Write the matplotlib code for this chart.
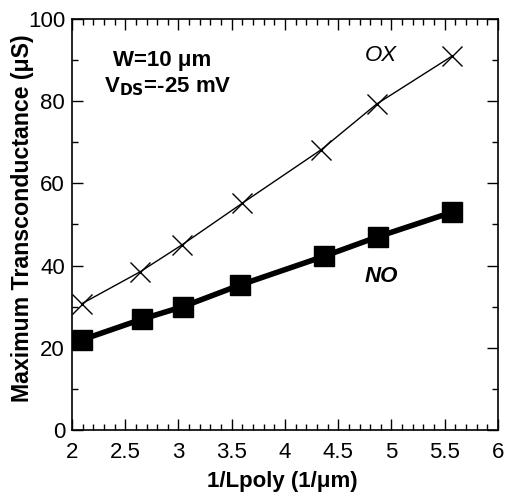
import matplotlib
matplotlib.use('Agg')
import matplotlib.pyplot as plt
from matplotlib.ticker import MultipleLocator

plt.rcParams['font.family'] = ['Liberation Sans', 'DejaVu Sans']

# data
x_ox = [2.09, 2.64, 3.03, 3.60, 4.34, 4.86, 5.57]
gm_ox = [30.7, 38.5, 45.0, 55.2, 68.2, 79.3, 91.0]
x_no = [2.09, 2.66, 3.04, 3.58, 4.37, 4.87, 5.57]
gm_no = [21.9, 27.0, 30.0, 35.3, 42.3, 47.0, 53.0]

fig = plt.figure(figsize=(5.07, 5.01), dpi=100)
ax = fig.add_axes([72/507, 1-430/501, 426/507, 411/501])

ax.plot(x_ox, gm_ox, color='black', lw=1.0, marker='x', ms=15, mew=1.0)
ax.plot(x_no, gm_no, color='black', lw=4, marker='s', ms=14.5)

ax.set_xlim(2, 6)
ax.set_ylim(0, 100)
ax.xaxis.set_major_locator(MultipleLocator(0.5))
ax.xaxis.set_minor_locator(MultipleLocator(0.1))
ax.yaxis.set_major_locator(MultipleLocator(20))
ax.yaxis.set_minor_locator(MultipleLocator(10))
ax.xaxis.set_major_formatter(lambda v, p: '%g' % v)
ax.tick_params(which='both', direction='in', top=True, right=True, labelsize=16, width=1.0)
ax.tick_params(which='major', length=8)
ax.tick_params(axis='x', which='major', pad=9)
ax.tick_params(axis='y', which='major', pad=5)
ax.tick_params(which='minor', length=4)
for s in ax.spines.values():
    s.set_linewidth(1.2)

ax.set_xlabel('1/Lpoly (1/\u03bcm)', fontsize=16, fontweight='bold')
ax.set_ylabel('Maximum Transconductance (\u03bcS)', fontsize=16.7, fontweight='bold')
ax.xaxis.set_label_coords(0.493, -0.1)
ax.yaxis.set_label_coords(-0.09, 0.515)

ax.text(4.90, 91.0, 'OX', fontsize=16, style='italic', ha='center', va='center')
ax.text(4.90, 37.3, 'NO', fontsize=16, style='italic', fontweight='bold', ha='center', va='center')
ax.text(2.85, 89.8, 'W=10 \u03bcm', fontsize=16, fontweight='bold', ha='center', va='center')
ax.text(2.90, 83.5, r'V$_{\mathbf{DS}}$=-25 mV', fontsize=16, fontweight='bold', ha='center', va='center')

fig.savefig('out.png', dpi=100)
